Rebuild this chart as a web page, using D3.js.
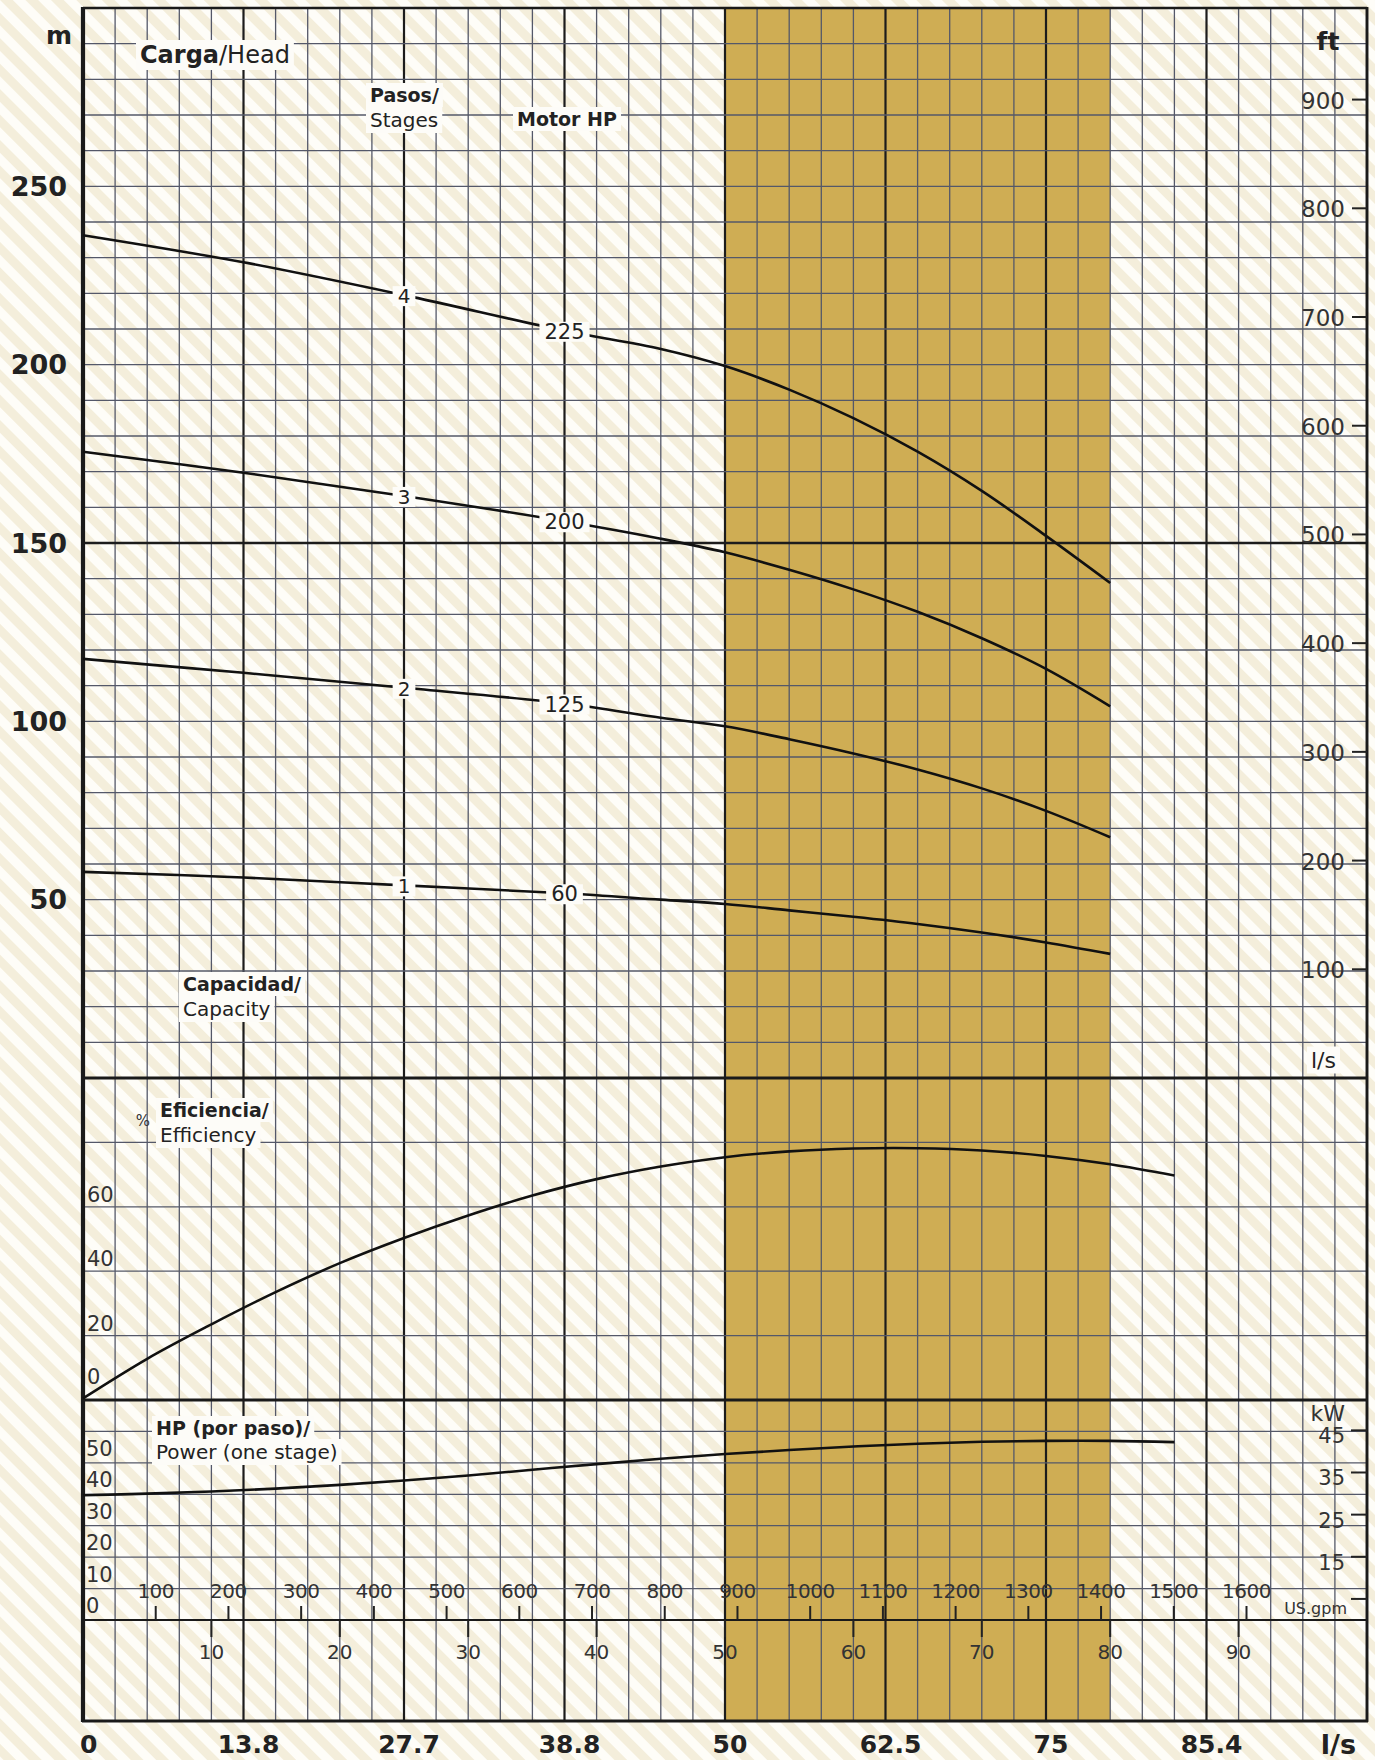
<!DOCTYPE html>
<html><head><meta charset="utf-8">
<script src="https://cdn.jsdelivr.net/npm/d3@7"></script>
<style>html,body{margin:0;padding:0;background:#fff}</style>
</head><body>
<svg id="c" width="1375" height="1760"></svg>
<script>
// ---------------- DATA ----------------
const flowLs = [0, 12.5, 25, 37.5, 45, 50, 55, 60, 65, 70, 75, 80];
const head1 = [57.8, 56.2, 54.0, 51.8, 50.0, 48.8, 47.0, 45.2, 43.2, 40.8, 38.0, 34.8];
const head2 = [117.5, 113.6, 109.4, 105.0, 101.0, 98.6, 95.0, 91.0, 86.5, 81.2, 74.9, 67.5];
const head3 = [175.6, 169.7, 163.2, 156.1, 151.2, 147.4, 142.5, 137.0, 130.7, 123.3, 114.7, 104.2];
const head4 = [236.3, 228.7, 219.5, 209.5, 204.4, 199.6, 193.0, 185.0, 175.6, 164.6, 152.0, 138.8];
const stageLabels = ["1", "2", "3", "4"];
const motorHpLabels = ["60", "125", "200", "225"];
const stageLabelFlow = 25;
const motorLabelFlow = 37.5;

const effFlow = [0, 5, 10, 15, 20, 25, 30, 35, 40, 45, 50, 55, 60, 65, 70, 75, 80, 85];
const effVals = [0.5, 12.8, 23.5, 33.5, 42.5, 50.3, 57.3, 63.5, 68.6, 72.5, 75.4, 77.2, 78.1, 78.2, 77.5, 75.8, 73.2, 69.7];

const powFlow = [0, 5, 10, 15, 20, 25, 30, 35, 40, 45, 50, 55, 60, 65, 70, 75, 80, 85];
const powVals = [39.7, 40.2, 40.9, 41.8, 43.0, 44.4, 46.0, 47.8, 49.6, 51.3, 52.8, 54.1, 55.2, 56.1, 56.7, 57.0, 57.0, 56.6];

const headTicksM = [50, 100, 150, 200, 250];
const headTicksFt = [100, 200, 300, 400, 500, 600, 700, 800, 900];
const effTicks = [0, 20, 40, 60];
const hpTicks = [0, 10, 20, 30, 40, 50];
const kwTicks = [5, 15, 25, 35, 45];
const kwLabels = ["", "15", "25", "35", "45"];
const gpmTicks = [100, 200, 300, 400, 500, 600, 700, 800, 900, 1000, 1100, 1200, 1300, 1400, 1500, 1600];
const lsTicks = [10, 20, 30, 40, 50, 60, 70, 80, 90];
const bottomLabels = ["0", "13.8", "27.7", "38.8", "50", "62.5", "75", "85.4"];
const shadeRange = [50, 80];

// ---------------- LAYOUT ----------------
const L = 83, R = 1367, T = 8, B = 1721;
const yHeadBase = 1078, yEffBase = 1400, yHpBase = 1620;

const svg = d3.select("#c");
const x = d3.scaleLinear().domain([0, 100]).range([L, R]);
const yHead = d3.scaleLinear().domain([0, 300]).range([yHeadBase, T]);
const yFt = d3.scaleLinear().domain([0, 300 / 0.3048]).range([yHeadBase, T]);
const yEff = d3.scaleLinear().domain([0, 100]).range([yEffBase, yHeadBase]);
const yHp = d3.scaleLinear().domain([0, 70]).range([yHpBase, yEffBase]);
const yKw = d3.scaleLinear().domain([0, 70 * 0.7457]).range([yHpBase, yEffBase]);
const xGpm = d3.scaleLinear().domain([0, 1600]).range([L, 1246.5]);

const REG = "'DejaVu Sans', sans-serif";
const BOLD = "'DejaVu Sans', sans-serif";
const INK = "#222";

// background stripes
const defs = svg.append("defs");
const pat = defs.append("pattern").attr("id", "stripes")
  .attr("patternUnits", "userSpaceOnUse").attr("width", 18).attr("height", 18)
  .attr("patternTransform", "rotate(-45)");
pat.append("rect").attr("width", 18).attr("height", 18).attr("fill", "#fefdf8");
pat.append("rect").attr("width", 9).attr("height", 18).attr("fill", "#f4eedb");
svg.append("rect").attr("width", 1375).attr("height", 1760).attr("fill", "url(#stripes)");

// shaded operating range
svg.append("rect")
  .attr("x", x(shadeRange[0])).attr("y", T)
  .attr("width", x(shadeRange[1]) - x(shadeRange[0])).attr("height", B - T)
  .attr("fill", "#cfad54");

// ---------------- GRID ----------------
const grid = svg.append("g");
const cols = d3.range(0, 41).map(i => i * 2.5);
grid.selectAll(".v").data(cols).join("line")
  .attr("x1", d => x(d)).attr("x2", d => x(d)).attr("y1", T).attr("y2", B)
  .attr("stroke", (d, i) => i % 5 === 0 ? "#1c1c1c" : "#545869")
  .attr("stroke-width", (d, i) => i % 5 === 0 ? 2.2 : 1.3);

const headRows = d3.range(10, 300, 10);
grid.selectAll(".hh").data(headRows).join("line")
  .attr("x1", L).attr("x2", R).attr("y1", d => yHead(d)).attr("y2", d => yHead(d))
  .attr("stroke", d => d === 150 ? "#1c1c1c" : "#545869")
  .attr("stroke-width", d => d === 150 ? 2.6 : 1.3);

grid.selectAll(".he").data([20, 40, 60, 80]).join("line")
  .attr("x1", L).attr("x2", R).attr("y1", d => yEff(d)).attr("y2", d => yEff(d))
  .attr("stroke", "#545869").attr("stroke-width", 1.3);

grid.selectAll(".hp").data([10, 20, 30, 40, 50, 60]).join("line")
  .attr("x1", L).attr("x2", R).attr("y1", d => yHp(d)).attr("y2", d => yHp(d))
  .attr("stroke", "#545869").attr("stroke-width", 1.3);

// section dividers and frame
const frame = svg.append("g").attr("stroke", "#1a1a1a").attr("fill", "none");
frame.append("line").attr("x1", L).attr("x2", R).attr("y1", yHeadBase).attr("y2", yHeadBase).attr("stroke-width", 2.8);
frame.append("line").attr("x1", L).attr("x2", R).attr("y1", yEffBase).attr("y2", yEffBase).attr("stroke-width", 2.8);
frame.append("line").attr("x1", L).attr("x2", R).attr("y1", yHpBase).attr("y2", yHpBase).attr("stroke-width", 2.2);
frame.append("line").attr("x1", L).attr("x2", R).attr("y1", T).attr("y2", T).attr("stroke-width", 2.6);
frame.append("line").attr("x1", L - 1).attr("x2", R + 1).attr("y1", B).attr("y2", B).attr("stroke-width", 3.2);
frame.append("line").attr("x1", L).attr("x2", L).attr("y1", T - 1).attr("y2", B + 1).attr("stroke-width", 4.2);
frame.append("line").attr("x1", R).attr("x2", R).attr("y1", T - 1).attr("y2", B + 1).attr("stroke-width", 2.8);

// ---------------- HELPERS ----------------
function boxedText(g, xp, yp, parts, opts) {
  const grp = g.append("g");
  const rect = grp.append("rect").attr("fill", "#fdfcf8");
  const t = grp.append("text").attr("x", xp).attr("y", yp)
    .attr("font-size", opts.size).attr("fill", INK)
    .attr("text-anchor", opts.anchor || "start").attr("dominant-baseline", "central")
    .attr("font-family", REG);
  parts.forEach(p => t.append("tspan").text(p.t).attr("font-weight", p.b ? "bold" : "normal"));
  const bb = t.node().getBBox();
  const px = opts.padX == null ? 4 : opts.padX, py = opts.padY == null ? 1 : opts.padY;
  rect.attr("x", bb.x - px).attr("y", bb.y - py).attr("width", bb.width + 2 * px).attr("height", bb.height + 2 * py);
  return grp;
}

// ---------------- CURVES ----------------
const heads = [head1, head2, head3, head4];
const headLine = d3.line().x((d, i) => x(flowLs[i])).y(d => yHead(d)).curve(d3.curveCatmullRom.alpha(0.5));
svg.append("g").selectAll("path").data(heads).join("path")
  .attr("d", d => headLine(d)).attr("fill", "none").attr("stroke", "#111").attr("stroke-width", 2.6);

const effLine = d3.line().x((d, i) => x(effFlow[i])).y(d => yEff(d)).curve(d3.curveCatmullRom.alpha(0.5));
svg.append("path").attr("d", effLine(effVals)).attr("fill", "none").attr("stroke", "#111").attr("stroke-width", 2.6);

const powLine = d3.line().x((d, i) => x(powFlow[i])).y(d => yHp(d)).curve(d3.curveCatmullRom.alpha(0.5));
svg.append("path").attr("d", powLine(powVals)).attr("fill", "none").attr("stroke", "#111").attr("stroke-width", 2.6);

// curve labels
const lab = svg.append("g");
const iStage = flowLs.indexOf(stageLabelFlow), iMotor = flowLs.indexOf(motorLabelFlow);
heads.forEach((h, k) => {
  boxedText(lab, x(stageLabelFlow), yHead(h[iStage]) + 1, [{ t: stageLabels[k] }], { size: 20, anchor: "middle", padX: 5, padY: -2 });
  boxedText(lab, x(motorLabelFlow), yHead(h[iMotor]) + 1, [{ t: motorHpLabels[k] }], { size: 21, anchor: "middle", padX: 5, padY: -2 });
});

// ---------------- AXIS LABELS ----------------
const ax = svg.append("g");
// left head (m)
ax.append("text").attr("x", 59).attr("y", 35).attr("text-anchor", "middle").attr("dominant-baseline", "central")
  .attr("font-family", BOLD).attr("font-weight", "bold").attr("font-size", 25).attr("fill", INK).text("m");
ax.selectAll(".lm").data(headTicksM).join("text")
  .attr("x", 67).attr("y", d => yHead(d)).attr("text-anchor", "end").attr("dominant-baseline", "central")
  .attr("font-family", BOLD).attr("font-weight", "bold").attr("font-size", 27).attr("fill", INK).text(d => d);

// right ft
ax.append("text").attr("x", 1328).attr("y", 41).attr("text-anchor", "middle").attr("dominant-baseline", "central")
  .attr("font-family", BOLD).attr("font-weight", "bold").attr("font-size", 25).attr("fill", INK).text("ft");
ax.selectAll(".ftt").data(headTicksFt).join("line")
  .attr("x1", R - 15).attr("x2", R).attr("y1", d => yFt(d)).attr("y2", d => yFt(d))
  .attr("stroke", INK).attr("stroke-width", 2);
ax.selectAll(".ftl").data(headTicksFt).join("text")
  .attr("x", R - 22).attr("y", d => yFt(d) + 1).attr("text-anchor", "end").attr("dominant-baseline", "central")
  .attr("font-family", REG).attr("font-size", 23).attr("fill", "#333").text(d => d);

// efficiency labels
ax.selectAll(".el").data(effTicks).join("text")
  .attr("x", 87).attr("y", d => d === 0 ? yEff(d) - 23 : yEff(d) - 12).attr("dominant-baseline", "central")
  .attr("font-family", REG).attr("font-size", 21).attr("fill", "#333").text(d => d);

// hp labels
ax.selectAll(".hl").data(hpTicks).join("text")
  .attr("x", 86).attr("y", d => yHp(d) - 14).attr("dominant-baseline", "central")
  .attr("font-family", REG).attr("font-size", 21).attr("fill", "#333").text(d => d);

// kW right
ax.selectAll(".kwt").data(kwTicks).join("line")
  .attr("x1", R - 16).attr("x2", R).attr("y1", d => yKw(d)).attr("y2", d => yKw(d))
  .attr("stroke", INK).attr("stroke-width", 2);
ax.selectAll(".kwl").data(kwTicks).join("text")
  .attr("x", R - 22).attr("y", d => yKw(d) + 6).attr("text-anchor", "end").attr("dominant-baseline", "central")
  .attr("font-family", REG).attr("font-size", 21).attr("fill", "#333").text((d, i) => kwLabels[i]);
ax.append("text").attr("x", R - 22).attr("y", 1413).attr("text-anchor", "end").attr("dominant-baseline", "central")
  .attr("font-family", REG).attr("font-size", 22).attr("fill", "#333").text("kW");

// gpm scale
ax.selectAll(".gt").data(gpmTicks).join("line")
  .attr("x1", d => xGpm(d)).attr("x2", d => xGpm(d)).attr("y1", yHpBase - 14).attr("y2", yHpBase)
  .attr("stroke", INK).attr("stroke-width", 2);
ax.selectAll(".gl").data(gpmTicks).join("text")
  .attr("x", d => xGpm(d)).attr("y", yHpBase - 29).attr("text-anchor", "middle").attr("dominant-baseline", "central")
  .attr("font-family", REG).attr("font-size", 20).attr("fill", "#333").attr("letter-spacing", -0.5).text(d => d);
ax.append("text").attr("x", R - 20).attr("y", 1608).attr("text-anchor", "end").attr("dominant-baseline", "central")
  .attr("font-family", REG).attr("font-size", 16).attr("fill", "#333").text("US.gpm");

// inner l/s scale
ax.selectAll(".lt").data(lsTicks).join("line")
  .attr("x1", d => x(d)).attr("x2", d => x(d)).attr("y1", yHpBase).attr("y2", yHpBase + 17)
  .attr("stroke", INK).attr("stroke-width", 2);
ax.selectAll(".ll").data(lsTicks).join("text")
  .attr("x", d => x(d)).attr("y", 1652).attr("text-anchor", "middle").attr("dominant-baseline", "central")
  .attr("font-family", REG).attr("font-size", 20).attr("fill", "#333").text(d => d);

// bottom bold labels
ax.selectAll(".bl").data(bottomLabels).join("text")
  .attr("x", (d, i) => i === 0 ? 80 : x(i * 12.5) + 5).attr("y", 1744)
  .attr("text-anchor", (d, i) => i === 0 ? "start" : "middle").attr("dominant-baseline", "central")
  .attr("font-family", BOLD).attr("font-weight", "bold").attr("font-size", 25).attr("fill", INK).text(d => d);
ax.append("text").attr("x", 1356).attr("y", 1744).attr("text-anchor", "end").attr("dominant-baseline", "central")
  .attr("font-family", BOLD).attr("font-weight", "bold").attr("font-size", 27).attr("fill", INK).text("l/s");

// ---------------- TITLES ----------------
const tt = svg.append("g");
boxedText(tt, 140, 55, [{ t: "Carga", b: true }, { t: "/Head" }], { size: 24 });
boxedText(tt, 370, 95, [{ t: "Pasos/", b: true }], { size: 19 });
boxedText(tt, 370, 120, [{ t: "Stages" }], { size: 20 });
boxedText(tt, 517, 119, [{ t: "Motor HP", b: true }], { size: 19 });
boxedText(tt, 183, 984, [{ t: "Capacidad/", b: true }], { size: 19 });
boxedText(tt, 183, 1009, [{ t: "Capacity" }], { size: 20 });
boxedText(tt, 1336, 1060, [{ t: "l/s" }], { size: 22, anchor: "end" });
boxedText(tt, 160, 1110, [{ t: "Eficiencia/", b: true }], { size: 19 });
boxedText(tt, 160, 1135, [{ t: "Efficiency" }], { size: 20 });
tt.append("text").attr("x", 143).attr("y", 1121).attr("text-anchor", "middle").attr("dominant-baseline", "central")
  .attr("font-family", REG).attr("font-size", 15).attr("fill", "#333").text("%");
boxedText(tt, 156, 1428, [{ t: "HP (por paso)/", b: true }], { size: 19 });
boxedText(tt, 156, 1452, [{ t: "Power (one stage)" }], { size: 20 });
</script>
</body></html>
